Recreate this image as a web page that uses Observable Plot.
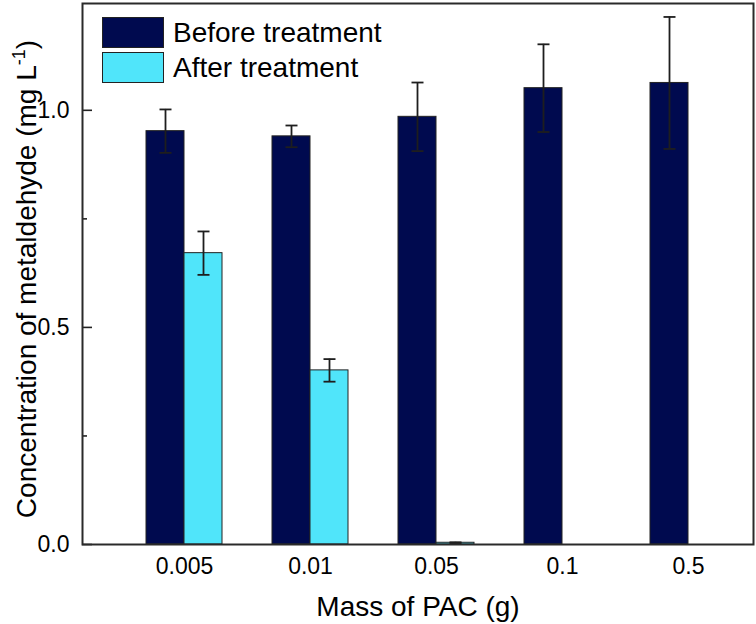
<!DOCTYPE html>
<html><head><meta charset="utf-8">
<script src="https://cdn.jsdelivr.net/npm/d3@7"></script>
<script src="https://cdn.jsdelivr.net/npm/@observablehq/plot@0.6"></script>
<style>
body{margin:0;background:#fff;}
#wrap{position:relative;width:756px;height:624px;font-family:"Liberation Sans",Arial,sans-serif;}
.legend{position:absolute;left:102px;top:15px;}
.item{display:flex;align-items:center;height:35px;}
.sw{width:60px;height:29px;border:1px solid #222;margin-right:9px;box-sizing:content-box;}
.lab{font-size:28px;color:#000;white-space:nowrap;}
</style></head>
<body><div id="wrap"></div>
<script>
const categories = ["0.005", "0.01", "0.05", "0.1", "0.5"];
const before = [0.952, 0.940, 0.985, 1.051, 1.063];
const beforeErr = [0.050, 0.025, 0.079, 0.101, 0.152];
const after = [0.671, 0.401, 0.004, 0, 0];
const afterErr = [0.050, 0.026, 0.001, 0, 0];
const seriesNames = ["Before treatment", "After treatment"];
const colors = ["#000a4f", "#50e5fa"];
const yTicks = [0, 0.5, 1.0];
const yMinorTicks = [0.25, 0.75];
const xTitle = "Mass of PAC (g)";
const yTitle = "Concentration of metaldehyde (mg L";

const rows = categories.map((c, i) => ({cat: c, before: before[i], bErr: beforeErr[i], after: after[i], aErr: afterErr[i]}));
const errB = rows.map(d => ({cat: d.cat, lo: d.before - d.bErr, hi: d.before + d.bErr}));
const errA = rows.filter(d => d.aErr > 0).map(d => ({cat: d.cat, lo: d.after - d.aErr, hi: d.after + d.aErr}));
const capsB = errB.flatMap(d => [{cat: d.cat, v: d.lo}, {cat: d.cat, v: d.hi}]);
const capsA = errA.flatMap(d => [{cat: d.cat, v: d.lo}, {cat: d.cat, v: d.hi}]);

const capSymbol = {draw(ctx, size) { const r = Math.sqrt(size / Math.PI); ctx.moveTo(-r, 0); ctx.lineTo(r, 0); }};
const errColor = "#1e1e1e";

const svg = Plot.plot({
  width: 756,
  height: 624,
  marginLeft: 82,
  marginRight: 3,
  marginTop: 3,
  marginBottom: 80,
  style: {fontFamily: "'Liberation Sans', Arial, sans-serif", fontSize: "22px", color: "#000", background: "#fff"},
  x: {type: "band", domain: categories, paddingInner: 0.4, paddingOuter: 0.347, align: 0.7},
  y: {domain: [0, 1.246]},
  marks: [
    Plot.barY(rows, {x: "cat", y: "before", fill: colors[0], stroke: "#222", strokeWidth: 1, insetRight: 38}),
    Plot.barY(rows.filter(d => d.after > 0), {x: "cat", y: "after", fill: colors[1], stroke: "#222", strokeWidth: 1, insetLeft: 38}),
    Plot.ruleX(errB, {x: "cat", y1: "lo", y2: "hi", dx: -19, stroke: errColor, strokeWidth: 1.8}),
    Plot.dot(capsB, {x: "cat", y: "v", dx: -19, r: 6, symbol: capSymbol, stroke: errColor, strokeWidth: 1.8, fill: "none"}),
    Plot.ruleX(errA, {x: "cat", y1: "lo", y2: "hi", dx: 19, stroke: errColor, strokeWidth: 1.8}),
    Plot.dot(capsA, {x: "cat", y: "v", dx: 19, r: 6, symbol: capSymbol, stroke: errColor, strokeWidth: 1.8, fill: "none"}),
    Plot.axisY({ticks: yTicks, tickSize: 0, tickPadding: 13, tickFormat: d3.format(".1f"), fontSize: 23, label: null}),
    Plot.axisY({ticks: yTicks, tickSize: -10, tickFormat: () => "", label: null, stroke: "#222", strokeWidth: 1.6}),
    Plot.axisY({ticks: yMinorTicks, tickSize: -5, tickFormat: () => "", label: null, stroke: "#222", strokeWidth: 1.6}),
    Plot.axisX({tickSize: 0, tickPadding: 13, fontSize: 23, label: null}),
    Plot.frame({stroke: "#2a2a2a", strokeWidth: 2}),
    Plot.text([xTitle], {frameAnchor: "bottom", dy: 71, lineAnchor: "bottom", fontSize: 28, fill: "#000"}),
    Plot.text([yTitle], {frameAnchor: "left", dx: -47, dy: 5, rotate: -90, textAnchor: "middle", lineAnchor: "bottom", fontSize: 28, fill: "#000", className: "ytitle"})
  ]
});

// add superscript to y title
const t = d3.select(svg).select("g.ytitle text");
t.text(null);
t.append("tspan").text(yTitle);
t.append("tspan").attr("dy", "-11").attr("font-size", "18").text("-1");
t.append("tspan").attr("dy", "11").text(")");

const wrap = document.getElementById("wrap");
wrap.appendChild(svg);
const legend = document.createElement("div");
legend.className = "legend";
seriesNames.forEach((name, i) => {
  const item = document.createElement("div");
  item.className = "item";
  const sw = document.createElement("div");
  sw.className = "sw";
  sw.style.background = colors[i];
  const lab = document.createElement("span");
  lab.className = "lab";
  lab.textContent = name;
  item.appendChild(sw);
  item.appendChild(lab);
  legend.appendChild(item);
});
wrap.appendChild(legend);
</script>
</body></html>
